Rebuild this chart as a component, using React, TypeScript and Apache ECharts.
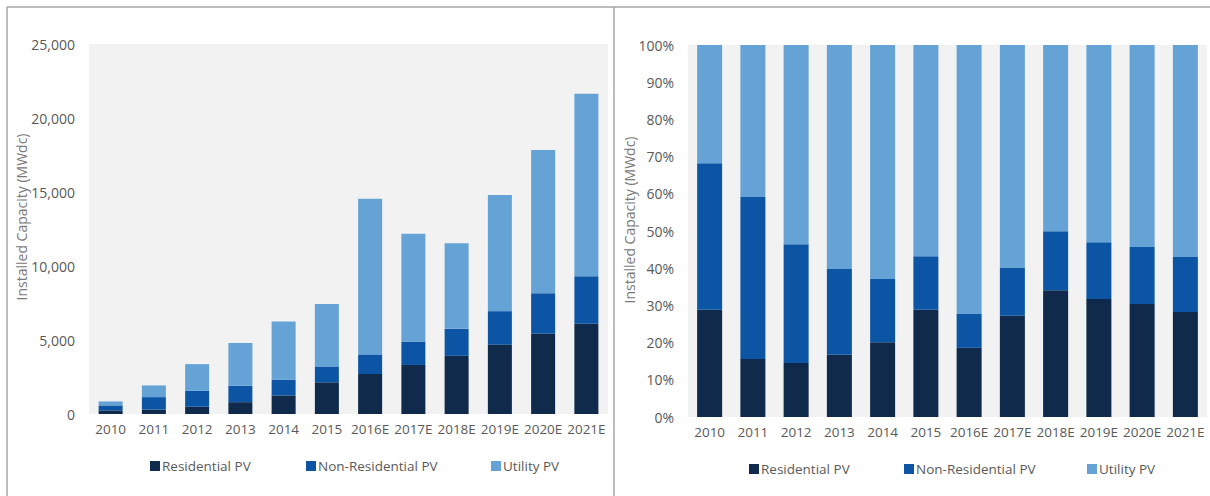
import React, { useEffect, useRef } from "react";
import * as echarts from "echarts";

const categories = ["2010", "2011", "2012", "2013", "2014", "2015", "2016E", "2017E", "2018E", "2019E", "2020E", "2021E"];
const residential = [245, 301, 489, 800, 1256, 2143, 2704, 3313, 3932, 4688, 5423, 6102];
const nonResidential = [335, 840, 1075, 1106, 1063, 1071, 1323, 1583, 1822, 2263, 2730, 3203];
const utility = [270, 789, 1806, 2884, 3931, 4226, 10513, 7284, 5776, 7839, 9687, 12335];
const seriesNames = ["Residential PV", "Non-Residential PV", "Utility PV"];
const colors = ["#0f2a4b", "#0c55a5", "#65a3d7"];

const totals = categories.map((_, i) => residential[i] + nonResidential[i] + utility[i]);
const pct = (arr: number[]) => arr.map((v, i) => (v / totals[i]) * 100);

const FONT = "'Open Sans', 'Segoe UI', sans-serif";
const TICK = "#595959";

export default function App() {
  const ref = useRef<HTMLDivElement>(null);
  useEffect(() => {
    document.body.style.margin = "0";
    const chart = echarts.init(ref.current!, null, { renderer: "svg" });
    const dataSets = [
      [residential, nonResidential, utility],
      [pct(residential), pct(nonResidential), pct(utility)],
    ];
    const series: any[] = [];
    dataSets.forEach((set, gi) => {
      set.forEach((d, si) => {
        series.push({
          type: "bar",
          name: seriesNames[si],
          stack: "s" + gi,
          xAxisIndex: gi,
          yAxisIndex: gi,
          barWidth: gi === 0 ? 24 : 25,
          itemStyle: { color: colors[si] },
          data: d,
        });
      });
    });
    const legendPos = [
      [145, 301, 486],
      [744, 899, 1082],
    ];
    const legendTop = [454, 457];
    const legends: any[] = [];
    legendPos.forEach((row, gi) =>
      row.forEach((x, si) =>
        legends.push({
          data: [seriesNames[si]],
          left: x,
          top: legendTop[gi],
          itemWidth: 10,
          itemHeight: 10,
          itemGap: 0,
          icon: "rect",
          selectedMode: false,
          textStyle: { color: TICK, fontSize: 13.5, fontFamily: FONT, padding: [0, 0, 0, -3] },
        })
      )
    );
    const lineStyle = { stroke: "#a6a6a6", lineWidth: 1.5 };
    chart.setOption({
      animation: false,
      textStyle: { fontFamily: FONT },
      grid: [
        { left: 89, top: 44, width: 519, height: 370, show: true, backgroundColor: "#f2f2f2", borderWidth: 0 },
        { left: 688, top: 45, width: 519, height: 372, show: true, backgroundColor: "#f2f2f2", borderWidth: 0 },
      ],
      xAxis: [0, 1].map((gi) => ({
        type: "category",
        gridIndex: gi,
        data: categories,
        axisLine: { show: false },
        axisTick: { show: false },
        axisLabel: { color: TICK, fontSize: 13.5, fontFamily: FONT, margin: 8, interval: 0 },
      })),
      yAxis: [
        {
          type: "value",
          gridIndex: 0,
          min: 0,
          max: 25000,
          interval: 5000,
          splitLine: { show: false },
          axisLine: { show: false },
          axisTick: { show: false },
          axisLabel: {
            color: TICK,
            fontSize: 14,
            fontFamily: FONT,
            margin: 14,
            formatter: (v: number) => v.toLocaleString("en-US"),
          },
        },
        {
          type: "value",
          gridIndex: 1,
          min: 0,
          max: 100,
          interval: 10,
          splitLine: { show: false },
          axisLine: { show: false },
          axisTick: { show: false },
          axisLabel: { color: TICK, fontSize: 14, fontFamily: FONT, margin: 14, formatter: "{value}%" },
        },
      ],
      legend: legends,
      series,
      graphic: [
        { type: "line", shape: { x1: 7, y1: 7, x2: 1210, y2: 7 }, style: lineStyle },
        { type: "line", shape: { x1: 7, y1: 7, x2: 7, y2: 496 }, style: lineStyle },
        { type: "line", shape: { x1: 614, y1: 7, x2: 614, y2: 496 }, style: lineStyle },
        {
          type: "text",
          x: 21,
          y: 217,
          rotation: Math.PI / 2,
          style: { text: "Installed Capacity (MWdc)", fill: "#7a7a7a", fontSize: 14, fontFamily: FONT, align: "center", verticalAlign: "middle" },
        },
        {
          type: "text",
          x: 629,
          y: 220,
          rotation: Math.PI / 2,
          style: { text: "Installed Capacity (MWdc)", fill: "#7a7a7a", fontSize: 14, fontFamily: FONT, align: "center", verticalAlign: "middle" },
        },
      ],
    });
    return () => chart.dispose();
  }, []);
  return <div ref={ref} style={{ width: 1210, height: 496 }} />;
}
